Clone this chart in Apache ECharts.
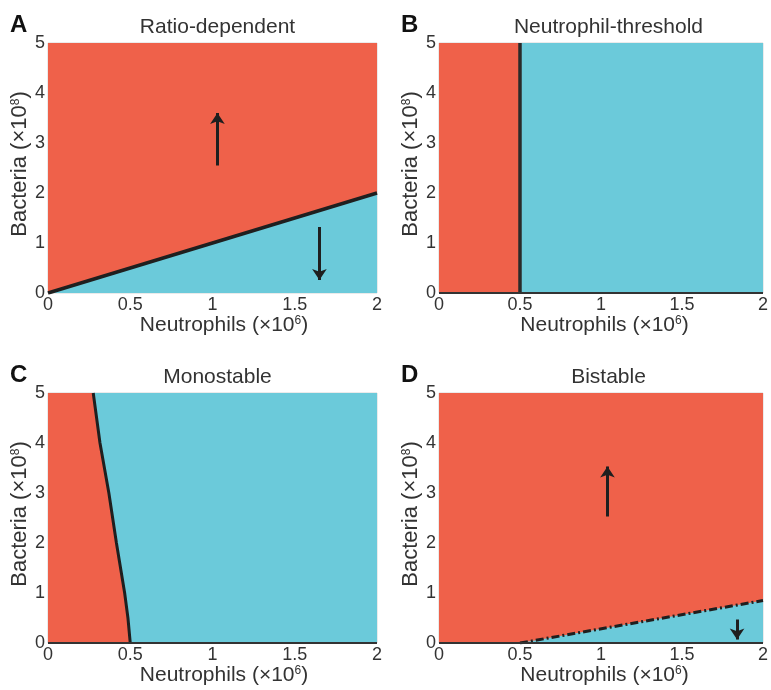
<!DOCTYPE html>
<html>
<head>
<meta charset="utf-8">
<script src="https://cdn.jsdelivr.net/npm/echarts@6/dist/echarts.min.js"></script>
<style>
  html, body { margin: 0; padding: 0; background: #fff; }
  #main { width: 771px; height: 690px; }
</style>
</head>
<body>
<div id="main"></div>
<script>
var panelLetters = ['A', 'B', 'C', 'D'];
var panelTitles = ['Ratio-dependent', 'Neutrophil-threshold', 'Monostable', 'Bistable'];

// A: separatrix B = N (ratio dependent)
var ratioLine = [[0, 0], [2, 2]];
// B: vertical threshold at N = 0.5
var thresholdLine = [[0.5, 0], [0.5, 5]];
// C: curved boundary
var monoCurve = [[0.275, 5], [0.316, 4], [0.37, 3], [0.416, 2], [0.466, 1], [0.486, 0.5], [0.5, 0]];
// D: dashed separatrix
var bistableLine = [[0.5, 0], [2, 0.85]];
// B = 0 steady state along the bottom (B, C, D)
var zeroLine = [[0, 0], [2, 0]];

// arrows: [x, yFrom, yTo]
var arrowsA = [[1.03, 2.55, 3.6], [1.65, 1.32, 0.26]];
var arrowsD = [[1.04, 2.53, 3.53], [1.84, 0.47, 0.07]];

var RED = '#EF614A', CYAN = '#6BCADA', INK = '#1f1f1f';
var FONT = '"Liberation Sans", Arial, Helvetica, sans-serif';

var myChart = echarts.init(document.getElementById('main'));

var grids = [
    {left: 48, top: 43, width: 329, height: 250},
    {left: 439, top: 43, width: 329, height: 250},
    {left: 48, top: 393, width: 329, height: 250},
    {left: 439, top: 393, width: 329, height: 250}
];
// x-axis name sits a little right of centre, more so in the left column
var xNameShift = [23, 7, 23, 7];

function fill(i, data, color, z) {
    return {
        type: 'line', xAxisIndex: i, yAxisIndex: i, data: data,
        showSymbol: false, silent: true, z: z,
        lineStyle: {width: 0}, areaStyle: {color: color, opacity: 1}
    };
}
function edge(i, data, style, z, clip) {
    return {
        type: 'line', xAxisIndex: i, yAxisIndex: i, data: data,
        showSymbol: false, silent: true, z: z, clip: clip !== false,
        lineStyle: style
    };
}
function arrows(i, list) {
    return {
        type: 'line', xAxisIndex: i, yAxisIndex: i, data: [], silent: true, z: 5,
        markLine: {
            silent: true, symbol: ['none', 'arrow'], symbolSize: 11,
            label: {show: false},
            lineStyle: {color: INK, width: 3, type: 'solid'},
            data: list.map(function (a) {
                return [{coord: [a[0], a[1]]}, {coord: [a[0], a[2]]}];
            })
        }
    };
}

var supStyle = {fontSize: 12, fontFamily: FONT, color: '#333', padding: [0, 0, 9, 0]};
var xAxes = [], yAxes = [], titles = [];
grids.forEach(function (g, i) {
    xAxes.push({
        type: 'value', gridIndex: i, min: 0, max: 2, interval: 0.5,
        axisLine: {show: false}, axisTick: {show: false}, splitLine: {show: false},
        axisLabel: {color: '#333', fontSize: 18, fontFamily: FONT, margin: 3},
        name: 'Neutrophils (×10{sup|6})', nameLocation: 'middle', nameGap: 18,
        nameTextStyle: {
            color: '#333', fontSize: 21, fontFamily: FONT, rich: {sup: supStyle},
            padding: [0, 0, 0, xNameShift[i]]
        }
    });
    yAxes.push({
        type: 'value', gridIndex: i, min: 0, max: 5, interval: 1,
        axisLine: {show: false}, axisTick: {show: false}, splitLine: {show: false},
        axisLabel: {color: '#333', fontSize: 18, fontFamily: FONT, margin: 3},
        name: 'Bacteria (×10{sup|8})', nameLocation: 'middle', nameGap: 15,
        nameTextStyle: {
            color: '#333', fontSize: 22, fontFamily: FONT, rich: {sup: supStyle},
            padding: [0, 0, 0, 8]
        }
    });
    titles.push({
        text: panelTitles[i], left: g.left + g.width / 2, top: g.top - 31, textAlign: 'center',
        textStyle: {color: '#333', fontSize: 21, fontWeight: 'normal', fontFamily: FONT}
    });
    titles.push({
        text: panelLetters[i], left: g.left - 43, top: g.top - 35,
        textStyle: {color: '#111', fontSize: 24, fontWeight: 'bold', fontFamily: FONT}
    });
});

var fullTop = [[0, 5], [2, 5]];
var series = [
    // A
    fill(0, fullTop, RED, 1),
    fill(0, ratioLine, CYAN, 2),
    edge(0, ratioLine, {color: INK, width: 3.5}, 3),
    arrows(0, arrowsA),
    // B
    fill(1, [[0, 5], [0.5, 5]], RED, 1),
    fill(1, [[0.5, 5], [2, 5]], CYAN, 1),
    edge(1, thresholdLine, {color: '#2a2a2a', width: 3.5}, 3),
    edge(1, zeroLine, {color: '#333', width: 2}, 3, false),
    // C
    fill(2, fullTop, CYAN, 1),
    fill(2, [[0, 5]].concat(monoCurve), RED, 2),
    edge(2, monoCurve, {color: INK, width: 3}, 3),
    edge(2, zeroLine, {color: '#333', width: 2}, 3, false),
    // D
    fill(3, fullTop, RED, 1),
    fill(3, [[0, 0]].concat(bistableLine), CYAN, 2),
    edge(3, bistableLine, {color: INK, width: 3, type: [8, 3, 2, 3]}, 3),
    edge(3, zeroLine, {color: '#333', width: 2}, 3, false),
    arrows(3, arrowsD)
];

grids.forEach(function (g) {
    g.show = true;
    g.borderColor = '#d6d6d6';
    g.borderWidth = 1;
    g.backgroundColor = 'transparent';
});

option = {
    animation: false,
    backgroundColor: '#fff',
    title: titles,
    grid: grids,
    xAxis: xAxes,
    yAxis: yAxes,
    series: series
};
myChart.setOption(option);
</script>
</body>
</html>
